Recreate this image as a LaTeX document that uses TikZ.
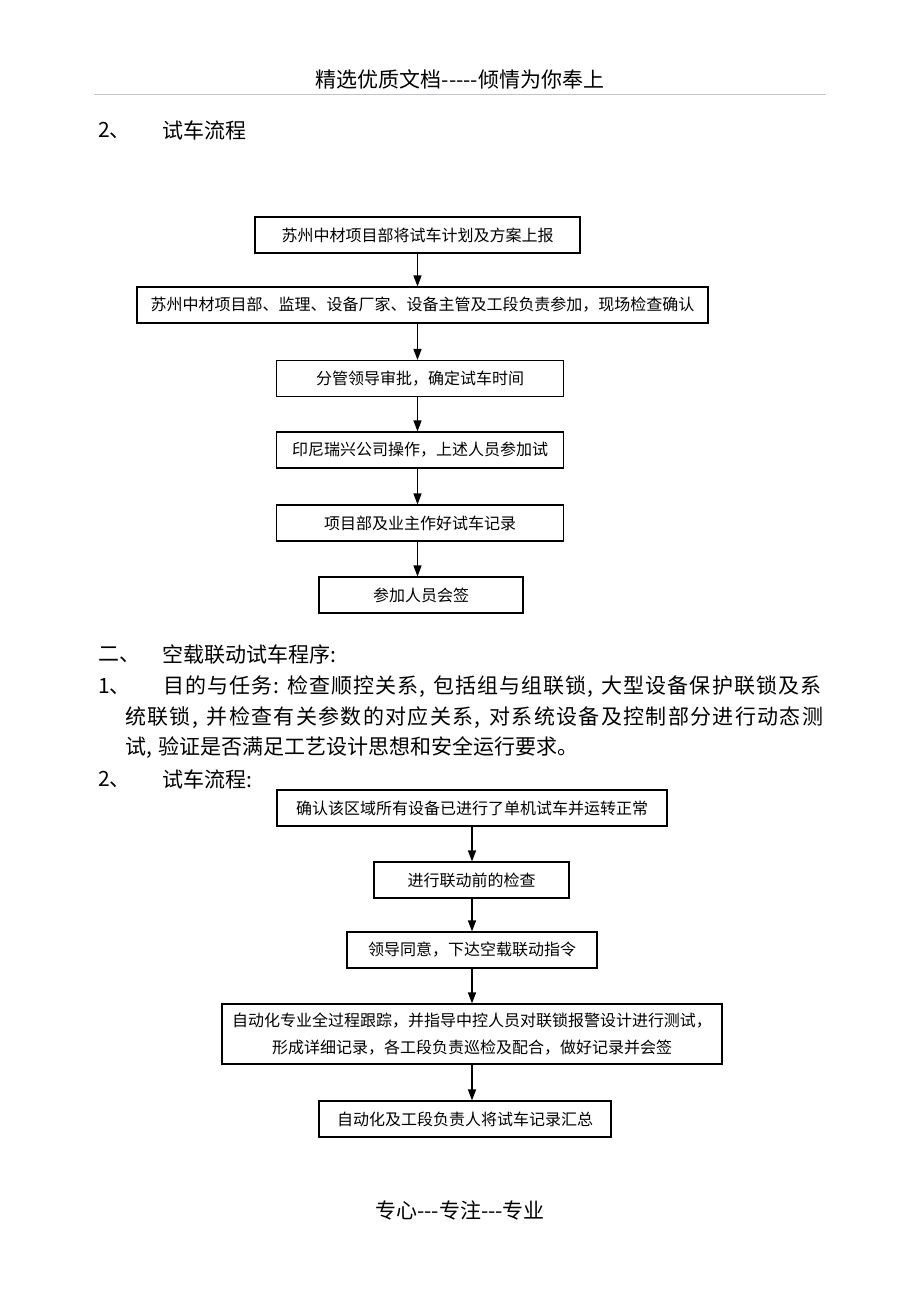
\documentclass[tikz,border=0pt]{standalone}
\usepackage{fontspec}
\setmainfont{Noto Sans CJK SC}[Ligatures=TeXOff]
\usetikzlibrary{arrows.meta}

% spread the characters of a line evenly over a given width
\def\spreadfirst#1{#1\spreadaux}
\def\spreadaux#1{\ifx#1\relax\else\hfil#1\expandafter\spreadaux\fi}
\newcommand\spreadline[2]{\hbox to #1{\spreadfirst#2\relax}}
\def\pgap{\hskip 6pt}

\tikzset{
	box/.style={draw, line width=1.1pt, inner sep=0pt, align=center,
		font=\fontsize{16}{27}\selectfont},
	arr/.style={-{Triangle[length=11pt,width=8pt]}, line width=1.3pt},
	body/.style={anchor=west, inner sep=0pt, font=\fontsize{21}{24}\selectfont},
}

\begin{document}
\begin{tikzpicture}[x=1pt,y=-1pt]
		\useasboundingbox (0,0) rectangle (920,1302);

		% header and footer
		\node[inner sep=0pt, font=\fontsize{21}{24}\selectfont] (head) at (460,79) {精选优质文档-----倾情为你奉上};
		\draw[line width=1pt, color={rgb,255:red,200;green,192;blue,204}] (94,94) -- (826,94);
		\node[inner sep=0pt, font=\fontsize{21}{24}\selectfont] (foot) at (460,1210) {专心---专注---专业};

		% first flow
		\node[body] (n1) at (98,130) {2、};
		\node[body] (t1) at (162,130) {试车流程};

		\node[box, minimum width=325, minimum height=36] (b1) at (417.5,235) {苏州中材项目部将试车计划及方案上报};
		\node[box, minimum width=571, minimum height=36] (b2) at (422.5,305) {苏州中材项目部、监理、设备厂家、设备主管及工段负责参加，现场检查确认};
		\node[box, minimum width=287, minimum height=36] (b3) at (420,378.5) {分管领导审批，确定试车时间};
		\node[box, minimum width=287, minimum height=36] (b4) at (420,450) {印尼瑞兴公司操作，上述人员参加试};
		\node[box, minimum width=287, minimum height=36] (b5) at (420,523) {项目部及业主作好试车记录};
		\node[box, minimum width=204, minimum height=36] (b6) at (421,595) {参加人员会签};

		\foreach \a/\b in {b1/b2, b2/b3, b3/b4, b4/b5, b5/b6}
			\draw[arr] (\a.south -| b1.south) -- (\b.north -| b1.south);

		% text block
		\node[body] (n2) at (98,655) {二、};
		\node[body] (t2) at (162,655) {空载联动试车程序:};
		\node[body] (n3) at (98,687) {1、};
		\node[body] (t3) at (163,687) {\spreadline{658pt}{目的与任务:\pgap 检查顺控关系,\pgap 包括组与组联锁,\pgap 大型设备保护联锁及系}};
		\node[body] (t4) at (125,718) {\spreadline{698pt}{统联锁,\pgap 并检查有关参数的对应关系,\pgap 对系统设备及控制部分进行动态测}};
		\node[body] (t5) at (125,748) {试,\pgap 验证是否满足工艺设计思想和安全运行要求。};
		\node[body] (n4) at (98,779) {2、};
		\node[body] (t6) at (162,779) {试车流程:};

		% second flow
		\node[box, minimum width=390, minimum height=36] (c1) at (472,808) {确认该区域所有设备已进行了单机试车并运转正常};
		\node[box, minimum width=195, minimum height=36] (c2) at (471.5,880) {进行联动前的检查};
		\node[box, minimum width=250, minimum height=36] (c3) at (472,950) {领导同意，下达空载联动指令};
		\node[box, minimum width=500, minimum height=60] (c4) at (472,1034) {自动化专业全过程跟踪，并指导中控人员对联锁报警设计进行测试，\\形成详细记录，各工段负责巡检及配合，做好记录并会签};
		\node[box, minimum width=292, minimum height=36] (c5) at (465,1119) {自动化及工段负责人将试车记录汇总};

		\foreach \a/\b in {c1/c2, c2/c3, c3/c4, c4/c5}
			\draw[arr] (\a.south -| c1.south) -- (\b.north -| c1.south);
\end{tikzpicture}
\end{document}
